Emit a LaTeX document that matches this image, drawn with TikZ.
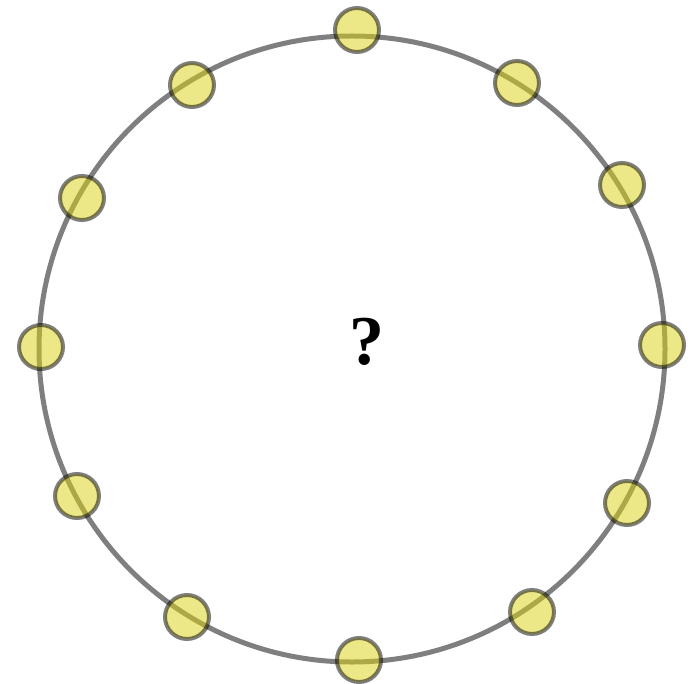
\documentclass[tikz,border=0pt]{standalone}
\usepackage{fontspec}
\setmainfont{Liberation Serif}
\definecolor{dotyellow}{RGB}{219,209,15}
\tikzset{
  ring/.style={draw=black, opacity=0.5, line width=5pt},
  seat/.style={circle, draw=black, line width=4pt, fill=dotyellow, minimum size=44pt, inner sep=0pt, opacity=0.5}
}
\begin{document}
\begin{tikzpicture}[x=1pt, y=-1pt]
    \useasboundingbox (0,0) rectangle (695,684);
    \coordinate (centre) at (352,349);
    \draw[ring] (centre) circle (313pt);
    \node[seat] (d1) at (357,30) {};
    \node[seat] (d2) at (517,83) {};
    \node[seat] (d3) at (622,185) {};
    \node[seat] (d4) at (662,345) {};
    \node[seat] (d5) at (627,503) {};
    \node[seat] (d6) at (532,612) {};
    \node[seat] (d7) at (359,660) {};
    \node[seat] (d8) at (187,617) {};
    \node[seat] (d9) at (77,496) {};
    \node[seat] (d10) at (41,347) {};
    \node[seat] (d11) at (82,198) {};
    \node[seat] (d12) at (192,85) {};
    \node[font=\fontsize{70}{70}\selectfont\bfseries] (q) at (367,342) {?};
\end{tikzpicture}
\end{document}
